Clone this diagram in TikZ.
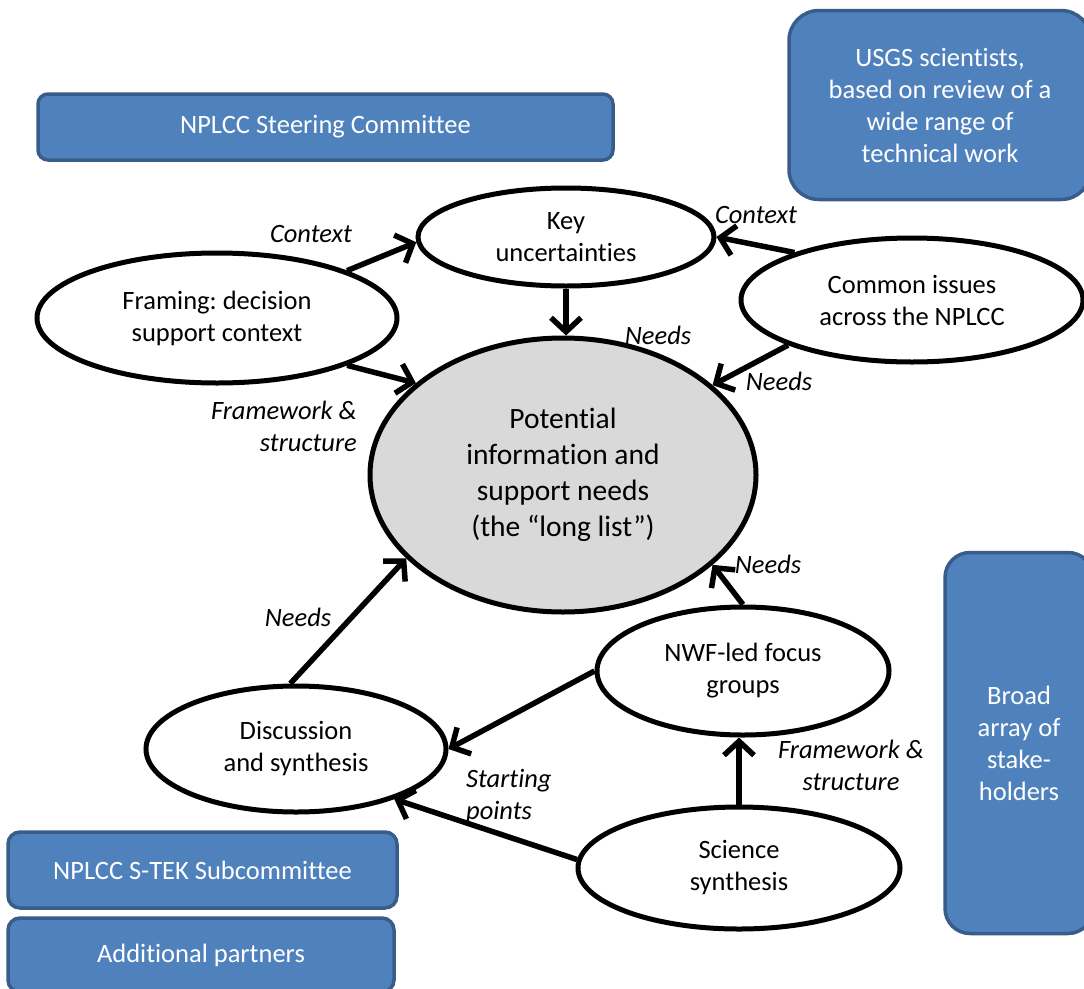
\documentclass[tikz,border=0pt]{standalone}
\usepackage{fontspec}
\setmainfont{Carlito}[Ligatures=NoCommon]
\usetikzlibrary{shapes.geometric,arrows.meta}
\definecolor{boxblue}{HTML}{4F81BD}
\definecolor{boxedge}{HTML}{385D8A}
\definecolor{ellgray}{HTML}{D9D9D9}
\frenchspacing
\begin{document}
\begin{tikzpicture}[x=1pt,y=-1pt,
  bluebox/.style={draw=boxedge, fill=boxblue, line width=3.5pt, text=white, align=center, inner sep=0pt, font=\fontsize{26.5}{32}\selectfont},
  oval/.style={ellipse, draw=black, fill=white, line width=5pt, align=center, inner sep=0pt, font=\fontsize{26.5}{32}\selectfont},
  lab/.style={font=\fontsize{26.5}{32}\selectfont\itshape, inner sep=0pt},
  conn/.style={line width=5.5pt, -{Straight Barb[length=14pt,width=30pt]}}
]
\clip (0,0) rectangle (1084,988);
\fill[white] (0,0) rectangle (1084,988);

\node[bluebox, rounded corners=10pt, minimum width=575pt, minimum height=66pt] (steer) at (325.5,127) {NPLCC Steering Committee};
\node[bluebox, rounded corners=30pt, minimum width=302pt, minimum height=189pt] (usgs) at (940,105) {USGS scientists,\\based on review of a\\wide range of\\technical work};
\node[bluebox, rounded corners=25pt, minimum width=148pt, minimum height=381pt] (broad) at (1019,743) {Broad\\array of\\stake-\\holders};
\node[bluebox, rounded corners=12pt, minimum width=389pt, minimum height=76pt] (stek) at (202.5,870) {NPLCC S-TEK Subcommittee};
\node[bluebox, rounded corners=12pt, minimum width=386pt, minimum height=74pt] (addp) at (201,955) {Additional partners};

\node[oval, minimum width=296pt, minimum height=98pt] (key) at (566,237) {Key\\uncertainties};
\node[oval, minimum width=360pt, minimum height=130pt] (fr) at (217,318) {Framing: decision\\support context};
\node[oval, minimum width=342pt, minimum height=124pt] (com) at (912,300) {Common issues\\across the NPLCC};
\node[oval, fill=ellgray, minimum width=386pt, minimum height=274pt, font=\fontsize{29.5}{36}\selectfont] (pot) at (563,475) {Potential\\information and\\support needs\\(the “long list”)};
\node[oval, minimum width=292pt, minimum height=128pt] (nwf) at (743,671) {NWF-led focus\\groups};
\node[oval, minimum width=300pt, minimum height=126pt] (disc) at (296,749) {Discussion\\and synthesis};
\node[oval, minimum width=322pt, minimum height=122pt] (sci) at (739,868) {Science\\synthesis};

\draw[conn] (fr.20) -- (key.182);
\draw[conn] (fr.-20) -- (pot.148);
\draw[conn] (key.south) -- (key.south |- pot.north);
\draw[conn] (com.158) -- (key.east);
\draw[conn] (com.200) -- (pot.31);
\draw[conn] (nwf.north) -- (pot.-31);
\draw[conn] (disc.95) -- (pot.208);
\draw[conn] (nwf.west) -- (disc.east);
\draw[conn] (sci.north) -- (sci.north |- nwf.south);
\draw[conn] (sci.177) -- (disc.-27);

\node[lab] (l1) at (311,234) {Context};
\node[lab, align=right, anchor=east] (l2) at (357,426) {Framework \&\\structure};
\node[lab] (l3) at (658,335) {Needs};
\node[lab] (l4) at (756,215) {Context};
\node[lab] (l5) at (779,381) {Needs};
\node[lab] (l6) at (768,564) {Needs};
\node[lab] (l7) at (298,617) {Needs};
\node[lab, align=center] (l8) at (851,765) {Framework \&\\structure};
\node[lab, align=left, anchor=west] (l9) at (466,797) {Starting\\points};
\end{tikzpicture}
\end{document}
